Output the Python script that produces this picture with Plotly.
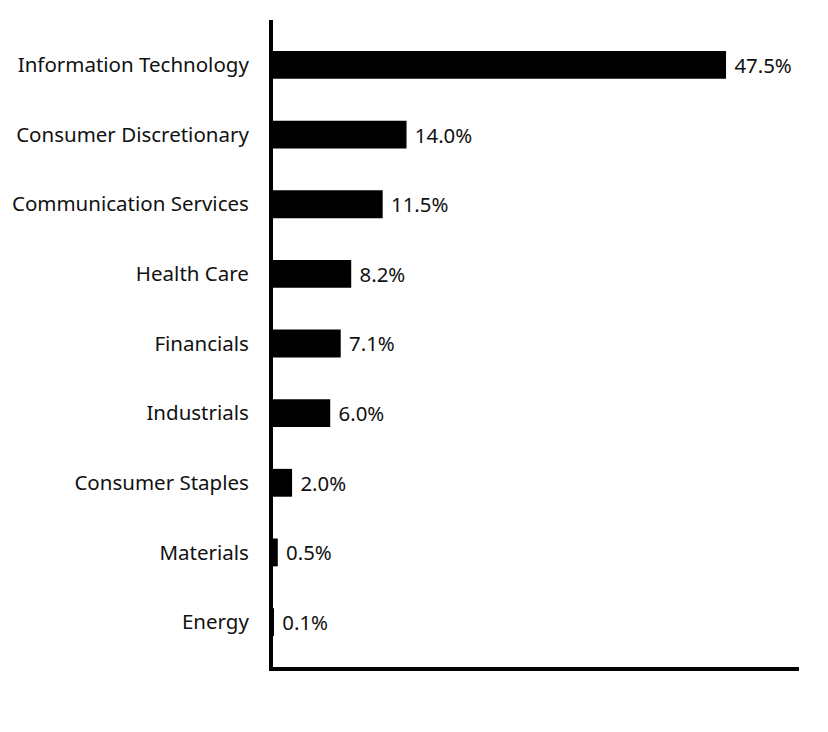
import plotly.graph_objects as go

categories = ["Information Technology", "Consumer Discretionary", "Communication Services",
              "Health Care", "Financials", "Industrials", "Consumer Staples", "Materials", "Energy"]
values = [47.5, 14.0, 11.5, 8.2, 7.1, 6.0, 2.0, 0.5, 0.1]
labels = ["47.5%", "14.0%", "11.5%", "8.2%", "7.1%", "6.0%", "2.0%", "0.5%", "0.1%"]

FONT = "Noto Sans"

fig = go.Figure(go.Bar(
    x=values, y=categories, orientation="h",
    marker=dict(color="black", line=dict(width=0)),
    width=0.4,
    text=[" " + t for t in labels], textposition="outside", cliponaxis=False,
    textfont=dict(size=20.5, color="#111111", family=FONT),
))
fig.update_layout(
    width=828, height=732,
    margin=dict(l=265, r=37, t=12, b=73),
    plot_bgcolor="white", paper_bgcolor="white",
    showlegend=False,
    font=dict(family=FONT, size=20.5, color="#111111"),
)
fig.update_xaxes(range=[0, 55.15], showgrid=False, zeroline=False, showticklabels=False,
                 showline=True, linecolor="black", linewidth=4, ticks="", automargin=False)
fig.update_yaxes(categoryorder="array", categoryarray=categories[::-1],
                 range=[-0.645, 8.645], showgrid=False, zeroline=False,
                 showline=True, linecolor="black", linewidth=4, ticks="",
                 ticklabelstandoff=16, automargin=False)
fig.write_html("out.html")
